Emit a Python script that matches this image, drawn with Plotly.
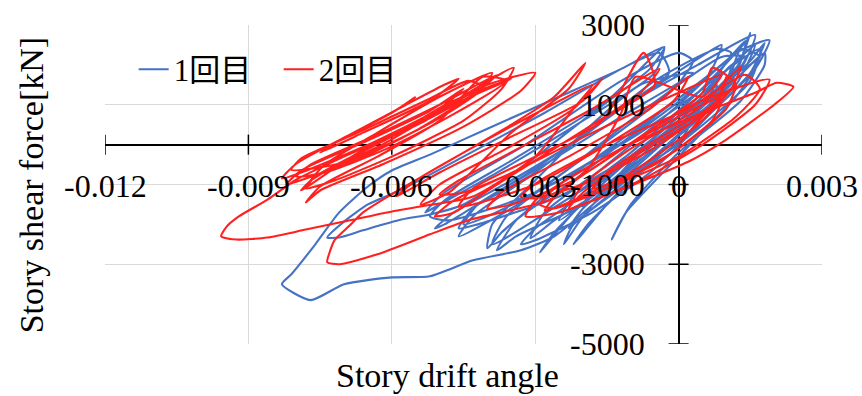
import plotly.graph_objects as go

# Story drift angle / story shear force hysteresis, first and second run
blue_points = [
    (0.0, 0),
    (0.0004, 800), (0.0008, 1500), (0.0007, 1100), (-0.0005, -300), (-0.0016, -1200), (-0.0020, -1550),
    (-0.0018, -1100), (-0.0007, 0), (0.0005, 1200),
    (0.0011, 2000), (0.0009, 1300), (-0.0003, 100), (-0.0018, -1300), (-0.0025, -1900), (-0.0022, -1300),
    (-0.0010, -200), (0.0004, 1300),
    (0.00145, 2650), (0.0015, 2800), (0.00125, 2000), (0.0002, 700), (-0.0013, -900), (-0.0026, -1900),
    (-0.0031, -2350), (-0.0028, -1700), (-0.0016, -600), (0.0, 1000), (0.0012, 2300),
    (0.0019, 2620), (0.0016, 1900), (0.0004, 500), (-0.0010, -900), (-0.0022, -2000), (-0.0024, -2500),
    (-0.0020, -1800), (-0.0009, -300), (0.0005, 1400),
    (0.0017, 2400), (0.0015, 1600), (0.0002, 200), (-0.0018, -1400), (-0.0034, -2300), (-0.0038, -2650),
    (-0.0034, -1900), (-0.0022, -900), (-0.0005, 700), (0.0010, 2100),
    (0.0014, 2600), (0.0012, 1800), (-0.0002, 300), (-0.0025, -1500), (-0.0039, -2500), (-0.0036, -1800),
    (-0.0024, -700), (-0.0008, 800), (0.0009, 2200),
    (0.0014, 2200), (0.0011, 1600), (0.0003, 600), (-0.0010, -800), (-0.0020, -1800), (-0.0023, -2100),
    (-0.0020, -1600), (-0.0010, -600), (0.0003, 800), (0.0015, 2100), (0.0018, 2550),
    (0.0015, 1800), (0.0006, 700), (-0.0006, -700), (-0.0018, -1700), (-0.0030, -2400), (-0.0033, -2500),
    (-0.0030, -2100), (-0.0018, -1100), (-0.0004, 200), (0.0011, 1700), (0.0017, 2200),
    (0.0013, 2400), (0.0010, 1500), (-0.0006, 0), (-0.0025, -1300), (-0.0042, -2000), (-0.0046, -2100),
    (-0.0043, -1600), (-0.0030, -600), (-0.0012, 900), (0.0006, 2300),
    (0.0009, 2500), (0.0006, 1700), (-0.0010, 200), (-0.0030, -1200), (-0.0048, -1900), (-0.0052, -1800),
    (-0.0049, -1400), (-0.0035, -400), (-0.0015, 1100), (-0.0003, 2450),
    (-0.0005, 1800), (-0.0020, 600), (-0.0038, -700), (-0.0050, -1500), (-0.0053, -1700), (-0.0049, -1200),
    (-0.0032, 0), (-0.0012, 1600), (0.0, 2300),
    (0.0003, 2100), (-0.0001, 1400), (-0.0016, 0), (-0.0035, -1600), (-0.0046, -2300), (-0.0043, -1800),
    (-0.0030, -700), (-0.0012, 900), (0.0004, 2000),
    (0.0016, 2750), (0.0013, 1900), (0.0, 400), (-0.0016, -1300), (-0.0026, -2300), (-0.0033, -2650),
    (-0.0043, -2900), (-0.0052, -3300), (-0.0060, -3330), (-0.0070, -3500), (-0.0077, -3900), (-0.0083, -3500),
    (-0.0081, -3250), (-0.0076, -2500), (-0.0071, -1700), (-0.0065, -1050), (-0.0060, -650), (-0.0052, -250),
    (-0.0040, 400), (-0.0025, 1200), (-0.0012, 1900), (-0.0003, 2450),
    (-0.0006, 1900), (-0.0018, 800), (-0.0032, -500), (-0.0045, -1500), (-0.0052, -1750), (-0.0058, -1880),
    (-0.0066, -2150), (-0.0071, -2330), (-0.00735, -2330), (-0.0070, -1930), (-0.0065, -1500), (-0.0058, -1130),
    (-0.0045, -300), (-0.0028, 800), (-0.0012, 1900), (-0.0004, 2300),
    (-0.0002, 1800), (-0.0015, 700), (-0.0030, -700), (-0.0042, -1500), (-0.0049, -2000), (-0.0051, -2100),
    (-0.0047, -1700), (-0.0035, -900), (-0.0020, 200), (-0.0005, 1600), (0.0008, 2400),
    (0.0011, 2300), (0.0007, 1600), (-0.0008, 300), (-0.0025, -900), (-0.0040, -1800), (-0.0045, -2000),
    (-0.0042, -1500), (-0.0028, -500), (-0.0012, 700), (0.0003, 1800),
    (-0.0008, 1500), (-0.0020, 300), (-0.0030, -900), (-0.0039, -2000), (-0.0040, -2600), (-0.0037, -2200),
    (-0.0026, -1100), (-0.0010, 300), (0.0005, 1600),
    (0.0010, 2100), (0.0005, 1200), (-0.0008, -300), (-0.0022, -1700), (-0.0029, -2700), (-0.0026, -2200),
    (-0.0016, -1000), (-0.0002, 500), (0.0013, 2200),
    (0.0016, 2500), (0.0012, 1500), (-0.0003, -100), (-0.0015, -1500), (-0.0022, -2500), (-0.0019, -2000),
    (-0.0008, -700), (0.0006, 900), (0.0018, 2300),
    (0.0018, 2000), (0.0013, 1100), (0.0, -200), (-0.0010, -1500), (-0.0014, -2380), (-0.0011, -1700),
    (0.0, -300), (0.0012, 1200), (0.0016, 1900),
]

red_points = [
    (0.0, 0),
    (0.0005, 700), (0.0009, 1100), (0.0007, 600), (-0.0005, -500), (-0.0015, -1000), (-0.0018, -1100),
    (-0.0015, -700), (-0.0005, 100), (0.0006, 900),
    (0.0012, 1500), (0.0010, 900), (0.0, -100), (-0.0015, -1100), (-0.0022, -1400), (-0.0020, -1000),
    (-0.0010, -100), (0.0004, 900),
    (0.0013, 1950), (0.0011, 1400), (0.0004, 500), (-0.0010, -700), (-0.0024, -1500), (-0.0028, -1650),
    (-0.0025, -1200), (-0.0013, -200), (0.0003, 1000),
    (0.0019, 1630), (0.0016, 1000), (0.0005, 0), (-0.0008, -900), (-0.0020, -1500), (-0.0023, -1600),
    (-0.0020, -1200), (-0.0008, -200), (0.0008, 1000),
    (0.0010, 1700), (0.0008, 1100), (-0.0004, 0), (-0.0018, -900), (-0.0030, -1350), (-0.0033, -1300),
    (-0.0029, -900), (-0.0015, 0), (0.0002, 900), (0.0014, 1750),
    (0.0017, 1400), (0.0012, 700), (0.0, -300), (-0.0013, -1000), (-0.0026, -1600), (-0.0029, -1500),
    (-0.0025, -1000), (-0.0012, -100), (0.0005, 800), (0.0016, 1300),
    (0.00205, 1550), (0.0024, 1450), (0.0020, 1000), (0.0009, 50), (0.0002, -430), (-0.0008, -930),
    (-0.0025, -1700), (-0.0032, -1800), (-0.0030, -1400), (-0.0018, -500), (0.0, 700), (0.0012, 1500),
    (0.0007, 1930), (0.0005, 1300), (-0.0008, 200), (-0.0022, -900), (-0.0035, -1500), (-0.0040, -1600),
    (-0.0037, -1200), (-0.0023, -300), (-0.0006, 900),
    (0.0002, 1700), (-0.0001, 1100), (-0.0015, 0), (-0.0030, -1000), (-0.0043, -1500), (-0.0046, -1550),
    (-0.0043, -1100), (-0.0030, -300), (-0.0016, 600), (-0.00073, 2300),
    (-0.0005, 1500), (-0.0018, 500), (-0.0033, -600), (-0.0045, -1200), (-0.0050, -1250), (-0.0046, -900),
    (-0.0032, 0), (-0.0018, 900), (-0.0004, 1900),
    (-0.0008, 1300), (-0.0022, 200), (-0.0038, -1000), (-0.0047, -1700), (-0.0051, -1800), (-0.0047, -1400),
    (-0.0033, -600), (-0.0018, 300), (0.0, 1300), (0.0009, 1750),
    (0.0005, 1200), (-0.0009, 1700), (-0.0012, 800), (-0.0019, -600), (-0.0027, -1380), (-0.00435, -1880),
    (-0.0052, -2250), (-0.0063, -2750), (-0.0071, -3000), (-0.00735, -2950), (-0.0073, -2700), (-0.0072, -2400),
    (-0.0069, -2050), (-0.0066, -1700), (-0.0058, -1100), (-0.0045, -200), (-0.0035, 500), (-0.0026, 1200),
    (-0.00195, 2050),
    (-0.0023, 1400), (-0.0035, 300), (-0.0048, -1200), (-0.0054, -1500), (-0.0050, -1000), (-0.0036, -100),
    (-0.0022, 900), (-0.0016, 1650),
    (-0.0020, 1100), (-0.0035, 200), (-0.0050, -700), (-0.0059, -1300), (-0.0055, -900), (-0.0042, 0),
    (-0.0028, 900), (-0.0018, 1500),
    (-0.0022, 900), (-0.0030, -300), (-0.0043, -1300), (-0.0054, -1550), (-0.0061, -1700), (-0.0070, -1930),
    (-0.0078, -2130), (-0.0086, -2330), (-0.00925, -2380), (-0.00957, -2300), (-0.00945, -2050), (-0.0092, -1800),
    (-0.0086, -1380), (-0.0080, -880), (-0.0070, -300), (-0.0055, 500), (-0.0044, 1300), (-0.00345, 1930),
    (-0.0037, 1400), (-0.0045, 600), (-0.0060, -300), (-0.0072, -900), (-0.0078, -1100), (-0.0076, -800),
    (-0.0065, -100), (-0.0052, 700), (-0.0040, 1500), (-0.0030, 1800),
    (-0.0033, 1350), (-0.0045, 450), (-0.0062, -500), (-0.0075, -1150), (-0.0078, -1450), (-0.0075, -1050),
    (-0.0063, -300), (-0.0050, 600), (-0.0041, 1700),
    (-0.0036, 1600), (-0.0048, 700), (-0.0061, -100), (-0.0074, -700), (-0.0080, -800), (-0.0077, -500),
    (-0.0064, 200), (-0.0050, 1000), (-0.0038, 1750),
    (-0.0043, 1250), (-0.0055, 350), (-0.0070, -450), (-0.0081, -630), (-0.0079, -350), (-0.0068, 250),
    (-0.0053, 1100), (-0.0044, 1600),
    (-0.0041, 1450), (-0.0053, 600), (-0.0067, -200), (-0.0077, -1000), (-0.0079, -1150), (-0.0076, -800),
    (-0.0062, 0), (-0.0049, 900), (-0.0035, 1650),
    (-0.0048, 1050), (-0.0060, 200), (-0.0073, -600), (-0.0077, -900), (-0.0074, -500), (-0.0063, 300),
    (-0.0050, 1200), (-0.0039, 1800),
    (-0.0042, 1300), (-0.0051, 600), (-0.0065, -250), (-0.0078, -850), (-0.0082, -1000), (-0.0079, -650),
    (-0.0066, 50), (-0.0052, 850), (-0.0045, 1400),
    (-0.0050, 900), (-0.0064, 50), (-0.0079, -700), (-0.0083, -850), (-0.0080, -480), (-0.0068, 300),
    (-0.0057, 1000), (-0.0049, 1500), (-0.0046, 1650),
    (-0.0052, 1100), (-0.0066, 300), (-0.0075, -200), (-0.0071, 100), (-0.0060, 800), (-0.0055, 1200),
]

series_names = ["1回目", "2回目"]
series_colors = ["#4472C4", "#FF2020"]

x_ticks = [-0.012, -0.009, -0.006, -0.003, 0, 0.003]
x_tick_labels = ["-0.012", "-0.009", "-0.006", "-0.003", "0", "0.003"]
y_ticks = [3000, 1000, -1000, -3000, -5000]
y_tick_labels = ["3000", "1000", "-1000", "-3000", "-5000"]

FONT = "Liberation Serif, Times New Roman, Noto Sans CJK JP, serif"

fig = go.Figure()
for name, color, pts in zip(series_names, series_colors, [blue_points, red_points]):
    xs, ys = zip(*pts)
    fig.add_trace(go.Scatter(
        x=list(xs), y=list(ys), mode="lines", name=name,
        line=dict(color=color, width=2.1, shape="spline", smoothing=0.6),
        hoverinfo="skip",
    ))

shapes = []
# crossing tick marks on the axis lines through the origin
for xv in x_ticks:
    shapes.append(dict(type="line", xref="x", yref="y", x0=xv, x1=xv,
                       ysizemode="pixel", yanchor=0, y0=-10, y1=10,
                       line=dict(color="black", width=1.5), layer="between"))
for yv in y_ticks:
    shapes.append(dict(type="line", xref="x", yref="y", y0=yv, y1=yv,
                       xsizemode="pixel", xanchor=0, x0=-10, x1=10,
                       line=dict(color="black", width=1.5), layer="between"))

annotations = []
for xv, lab in zip(x_ticks, x_tick_labels):
    annotations.append(dict(x=xv, y=0, xref="x", yref="y", text=lab, showarrow=False,
                            xanchor="center", yanchor="middle", yshift=-41,
                            font=dict(family=FONT, size=32, color="black")))
for yv, lab in zip(y_ticks, y_tick_labels):
    annotations.append(dict(x=0, y=yv, xref="x", yref="y", text=lab, showarrow=False,
                            xanchor="right", yanchor="middle", xshift=-32,
                            font=dict(family=FONT, size=32, color="black")))
annotations.append(dict(x=0.478, y=-0.098, xref="paper", yref="paper", text="Story drift angle",
                        showarrow=False, xanchor="center", yanchor="middle",
                        font=dict(family=FONT, size=34, color="black")))
annotations.append(dict(x=-0.102, y=0.497, xref="paper", yref="paper", text="Story shear force[kN]",
                        showarrow=False, xanchor="center", yanchor="middle", textangle=-90,
                        font=dict(family=FONT, size=34, color="black")))

fig.update_layout(
    width=862, height=396,
    margin=dict(l=105, r=40, t=25, b=52),
    plot_bgcolor="white", paper_bgcolor="white",
    shapes=shapes, annotations=annotations,
    showlegend=True,
    legend=dict(orientation="h", x=0.04, y=0.86, xanchor="left", yanchor="middle",
                bgcolor="rgba(0,0,0,0)", font=dict(family=FONT, size=31, color="black"),
                entrywidth=100, tracegroupgap=0),
    xaxis=dict(range=[-0.012, 0.003], tick0=0, dtick=0.003, showgrid=True,
               gridcolor="#D9D9D9", gridwidth=1, zeroline=True, zerolinecolor="black",
               zerolinewidth=1.5, showticklabels=False, ticks="", showline=False, fixedrange=True),
    yaxis=dict(range=[-5000, 3000], tick0=1000, dtick=2000, showgrid=True,
               gridcolor="#D9D9D9", gridwidth=1, zeroline=True, zerolinecolor="black",
               zerolinewidth=1.5, showticklabels=False, ticks="", showline=False, fixedrange=True),
)

fig.write_html("out.html")
